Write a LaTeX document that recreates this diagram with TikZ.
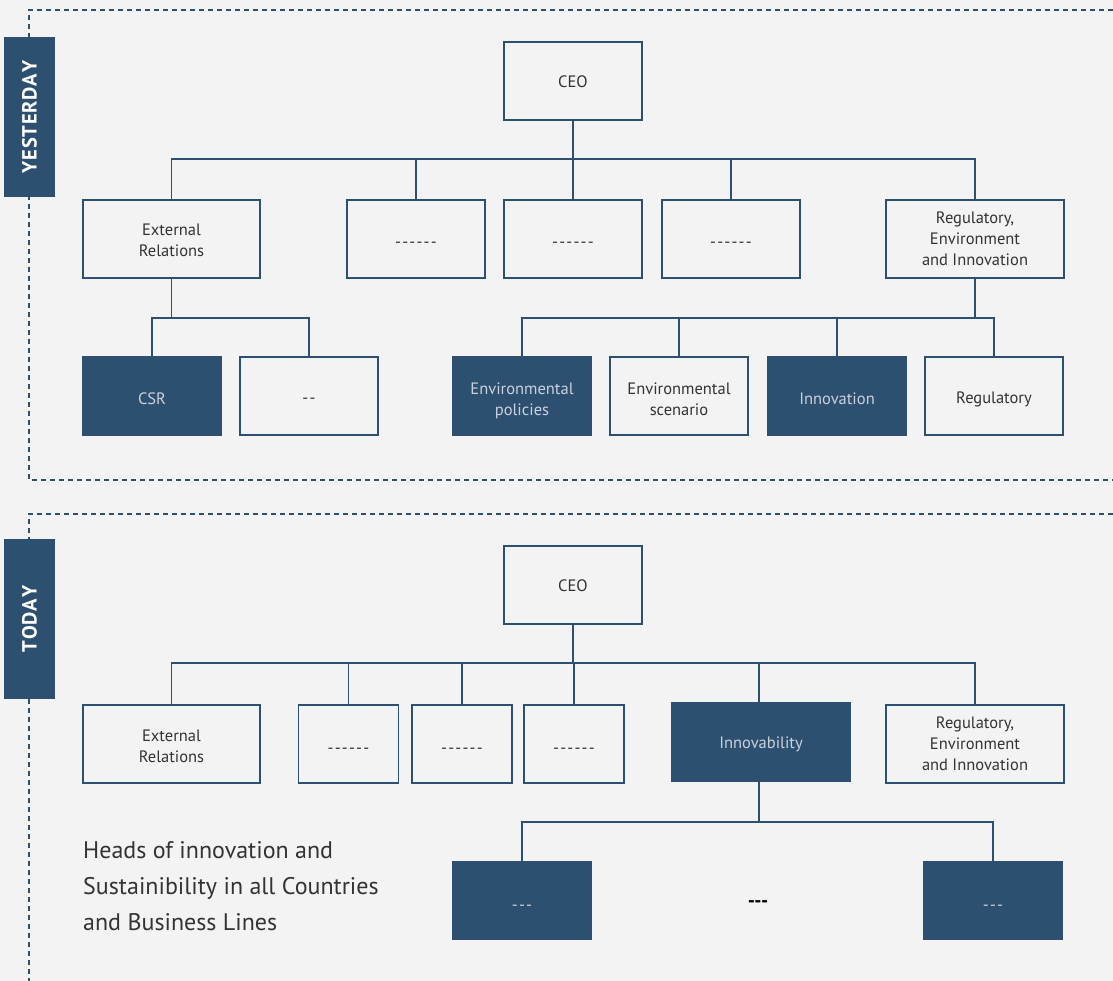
\documentclass[tikz,border=0pt]{standalone}
\usepackage{fontspec}
\setmainfont{PT Sans}
\begin{document}
\begin{tikzpicture}[x=1pt,y=-1pt]
\definecolor{navy}{HTML}{2E5070}
\definecolor{bg}{HTML}{F3F3F3}
\definecolor{txt}{HTML}{333333}
\definecolor{ltxt}{HTML}{C9D2DC}
\newcommand{\dsh}[1]{\foreach \i in {1,...,#1}{-\kern1.2pt}\kern-1.2pt}
\newcommand{\rs}[1]{\rule{0pt}{#1pt}}
\tikzset{
  base/.style={rectangle, line width=1.3pt, align=center, inner sep=2pt,
    font=\fontsize{16.5}{21}\selectfont},
  wbox/.style={base, draw=navy, fill=bg, text=txt},
  dbox/.style={base, draw=navy, fill=navy, text=ltxt},
  conn/.style={draw=navy, line width=1.3pt},
  frame/.style={draw=navy, line width=1.1pt, dash pattern=on 5pt off 4pt},
  tag/.style={rectangle, fill=navy, text=white, minimum width=160pt, minimum height=51pt,
    font=\bfseries\fontsize{20.5}{22}\selectfont, rotate=90}
}
\fill[bg] (0,0) rectangle (1113,981);
\useasboundingbox (0,0) rectangle (1113,981);
% frames
\draw[frame] (1113,10) -- (29,10) -- (29,480) -- (1113,480);
\draw[frame] (1113,514) -- (29,514) -- (29,981);
% tags
\node[tag] (yest) at (29.5,117) {Y\kern0.8pt E\kern0.8pt S\kern0.8pt T\kern0.8pt E\kern0.8pt R\kern0.8pt D\kern0.8pt A\kern0.8pt Y};
\node[tag] (today) at (29.5,619) {T\kern0.8pt O\kern0.8pt D\kern0.8pt A\kern0.8pt Y};

% ===== Yesterday =====
\node[wbox, minimum width=138pt, minimum height=78pt] (ceoA) at (573,81) {\rs{13.6}CEO};
\node[wbox, minimum width=177pt, minimum height=78pt] (extA) at (171.5,239) {\rs{14.6}External\\Relations};
\node[wbox, minimum width=138pt, minimum height=78pt] (a2) at (416,239) {\rs{17}\dsh{6}};
\node[wbox, minimum width=138pt, minimum height=78pt] (a3) at (573,239) {\rs{17}\dsh{6}};
\node[wbox, minimum width=138pt, minimum height=78pt] (a4) at (731,239) {\rs{17}\dsh{6}};
\node[wbox, minimum width=178pt, minimum height=78pt] (regA) at (975,239) {Regulatory,\\Environment\\and Innovation};
\coordinate (busA) at (0,159);
\draw[conn] (ceoA.south) -- (ceoA.south |- busA);
\draw[conn] (extA.north) -- (extA.north |- busA) -| (regA.north);
\draw[conn] (a2.north) -- (a2.north |- busA);
\draw[conn] (a3.north) -- (a3.north |- busA);
\draw[conn] (a4.north) -- (a4.north |- busA);

\node[dbox, minimum width=138pt, minimum height=78pt] (csr) at (152,396) {\rs{17.6}CSR};
\node[wbox, minimum width=138pt, minimum height=78pt] (dash) at (309,396) {\rs{15}\dsh{2}};
\node[dbox, minimum width=138pt, minimum height=78pt] (envp) at (522,396) {\rs{21.9}Environmental\\policies};
\node[wbox, minimum width=138pt, minimum height=78pt] (envs) at (679,396) {\rs{18.6}Environmental\\scenario};
\node[dbox, minimum width=138pt, minimum height=78pt] (innov) at (837,396) {\rs{17.6}Innovation};
\node[wbox, minimum width=138pt, minimum height=78pt] (regul) at (994,396) {\rs{18.9}Regulatory};
\coordinate (busB) at (0,318);
\draw[conn] (extA.south) -- (extA.south |- busB);
\draw[conn] (csr.north) -- (csr.north |- busB) -| (dash.north);
\draw[conn] (regA.south) -- (regA.south |- busB);
\draw[conn] (envp.north) -- (envp.north |- busB) -| (regul.north);
\draw[conn] (envs.north) -- (envs.north |- busB);
\draw[conn] (innov.north) -- (innov.north |- busB);

% ===== Today =====
\node[wbox, minimum width=138pt, minimum height=78pt] (ceoB) at (573,585) {\rs{13.6}CEO};
\node[wbox, minimum width=177pt, minimum height=78pt] (extB) at (171.5,744) {\rs{17}External\\Relations};
\node[wbox, minimum width=100pt, minimum height=78pt] (b2) at (348.5,744) {\rs{19}\dsh{6}};
\node[wbox, minimum width=100pt, minimum height=78pt] (b3) at (462,744) {\rs{19}\dsh{6}};
\node[wbox, minimum width=100pt, minimum height=78pt] (b4) at (574,744) {\rs{19}\dsh{6}};
\node[dbox, minimum width=178pt, minimum height=78pt] (innovab) at (761,742) {\rs{16.3}Innovability};
\node[wbox, minimum width=178pt, minimum height=78pt] (regB) at (975,744) {Regulatory,\\Environment\\and Innovation};
\coordinate (busC) at (0,663);
\draw[conn] (ceoB.south) -- (ceoB.south |- busC);
\draw[conn] (extB.north) -- (extB.north |- busC) -| (regB.north);
\draw[conn] (b2.north) -- (b2.north |- busC);
\draw[conn] (b3.north) -- (b3.north |- busC);
\draw[conn] (b4.north) -- (b4.north |- busC);
\draw[conn] ([xshift=-2pt]innovab.north) -- ([xshift=-2pt]innovab.north |- busC);

\node[dbox, minimum width=138pt, minimum height=78pt] (h1) at (522,900.5) {\rs{19}\dsh{3}};
\node[dbox, minimum width=138pt, minimum height=78pt] (h2) at (993,900.5) {\rs{19}\dsh{3}};
\node[font=\bfseries\fontsize{20}{22}\selectfont, text=black, inner sep=0pt] (hmid) at (758,904) {{-}\kern-0.6pt{-}\kern-0.6pt{-}};
\coordinate (busD) at (0,822);
\draw[conn] ([xshift=-2pt]innovab.south) -- ([xshift=-2pt]innovab.south |- busD);
\draw[conn] (h1.north) -- (h1.north |- busD) -| (h2.north);

\node[anchor=north west, align=left, text=txt, inner sep=0pt,
  font=\fontsize{24}{36}\selectfont] (heads) at (83,841)
  {Heads of innovation and\\Sustainibility in all Countries\\and Business Lines};
\end{tikzpicture}
\end{document}
